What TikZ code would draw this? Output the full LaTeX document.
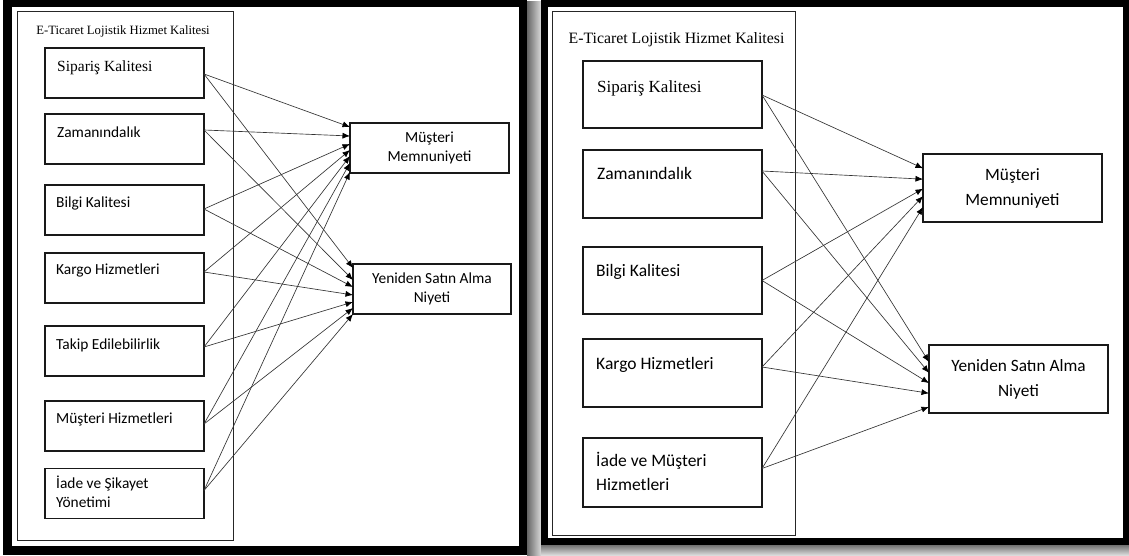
\documentclass[tikz,border=0pt]{standalone}
\usepackage{fontspec}
\setmainfont{Liberation Serif}
\newfontfamily\carl{Carlito}
\usetikzlibrary{arrows.meta,calc}
\begin{document}
\begin{tikzpicture}[x=1pt,y=-1pt,
  grp/.style={draw=black!85,line width=1pt},
  lbox/.style={draw=black!90,line width=1.2pt,inner sep=0pt,outer sep=0pt,minimum width=159pt,minimum height=50pt},
  rbox/.style={draw=black!90,line width=1.2pt,inner sep=0pt,outer sep=0pt,minimum width=179pt,minimum height=67pt},
  ltxt/.style={anchor=mid west,inner sep=0pt,font=\carl\fontsize{15.4}{19}\selectfont,align=left},
  rtxt/.style={anchor=mid west,inner sep=0pt,font=\carl\fontsize{17.5}{24}\selectfont,align=left},
  ltgt/.style={lbox,font=\carl\fontsize{15.4}{19}\selectfont,align=center},
  rtgt/.style={rbox,minimum height=68pt,font=\carl\fontsize{17.3}{25}\selectfont,align=center},
  conn/.style={draw=black!80,line width=0.65pt,-{Latex[length=7.5pt,width=6pt,color=black]}}
]
\useasboundingbox (0,0) rectangle (1129,556);
% frames and shadows
\shade[left color=black!60,right color=black!15] (527,2) rectangle (541,556);
\shade[top color=black!55,bottom color=black!10] (541,545) rectangle (1129,556);
\fill[black] (3,0) rectangle (527,555);
\fill[white] (12,7) rectangle (519,546);
\fill[black] (541,0) rectangle (1129,545);
\fill[white] (548,7) rectangle (1123,538);

% ---------------- left panel ----------------
\draw[grp] (17,12) rectangle (233,540);
\node[inner sep=0pt,font=\fontsize{12.7}{15}\selectfont] (lt) at (123,31) {E-Ticaret Lojistik Hizmet Kalitesi};

\node[lbox] (L1) at (124.5,73) {};
\node[lbox] (L2) at (124.5,139) {};
\node[lbox] (L3) at (124.5,210) {};
\node[lbox] (L4) at (124.5,278) {};
\node[lbox] (L5) at (124.5,351) {};
\node[lbox] (L6) at (124.5,426) {};
\node[lbox] (L7) at (124.5,493.5) {};
\node[ltxt,font=\fontsize{15.5}{19}\selectfont] (L1t) at (57,69) {Sipariş Kalitesi};
\node[ltxt] (L2t) at (57,135) {Zamanındalık};
\node[ltxt] (L3t) at (56,205) {Bilgi Kalitesi};
\node[ltxt] (L4t) at (56,272) {Kargo Hizmetleri};
\node[ltxt] (L5t) at (56,347) {Takip Edilebilirlik};
\node[ltxt] (L6t) at (56,421) {Müşteri Hizmetleri};
\node[ltxt,anchor=west] (L7t) at (56,492) {İade ve Şikayet\\Yönetimi};

\node[ltgt] (LM) at (429.5,148) {Müşteri\\Memnuniyeti};
\node[ltgt,minimum width=158pt] (LY) at (432,289) {Yeniden Satın Alma\\Niyeti};

\foreach \s/\dy/\fm/\fy in {L1/1/0.08/0.08, L2/-9/0.26/0.32, L3/-1/0.42/0.46, L4/-6/0.54/0.62, L5/-4/0.66/0.76, L6/-2/0.80/0.88, L7/-3/0.98/1.0}{
  \draw[conn] ($(\s.east)+(0,\dy)$) -- ($(LM.north west)!\fm!(LM.south west)$);
  \draw[conn] ($(\s.east)+(0,\dy)$) -- ($(LY.north west)!\fy!(LY.south west)$);
}

% ---------------- right panel ----------------
\draw[grp] (552,12) rectangle (795,535);
\node[inner sep=0pt,font=\fontsize{15.8}{19}\selectfont] (rt) at (676.5,40) {E-Ticaret Lojistik Hizmet Kalitesi};

\node[rbox] (R1) at (672.5,94.5) {};
\node[rbox,minimum height=68pt] (R2) at (672.5,184) {};
\node[rbox] (R3) at (672.5,280.5) {};
\node[rbox,minimum height=68pt] (R4) at (672.5,373) {};
\node[rbox,minimum height=69pt] (R5) at (672.5,472.5) {};
\node[rtxt,font=\fontsize{17}{20}\selectfont] (R1t) at (597,90) {Sipariş Kalitesi};
\node[rtxt] (R2t) at (597,177) {Zamanındalık};
\node[rtxt] (R3t) at (596,274) {Bilgi Kalitesi};
\node[rtxt] (R4t) at (596,367) {Kargo Hizmetleri};
\node[rtxt,anchor=west] (R5t) at (596,471) {İade ve Müşteri\\Hizmetleri};

\node[rtgt] (RM) at (1012.5,188) {Müşteri\\Memnuniyeti};
\node[rtgt] (RY) at (1018.5,379) {Yeniden Satın Alma\\Niyeti};

\foreach \s/\dy/\fm/\fy in {R1/0.5/0.21/0.25, R2/-13/0.37/0.41, R3/0/0.51/0.56, R4/-6/0.62/0.71, R5/-4/0.78/0.91}{
  \draw[conn] ($(\s.east)+(0,\dy)$) -- ($(RM.north west)!\fm!(RM.south west)$);
  \draw[conn] ($(\s.east)+(0,\dy)$) -- ($(RY.north west)!\fy!(RY.south west)$);
}
\end{tikzpicture}
\end{document}
